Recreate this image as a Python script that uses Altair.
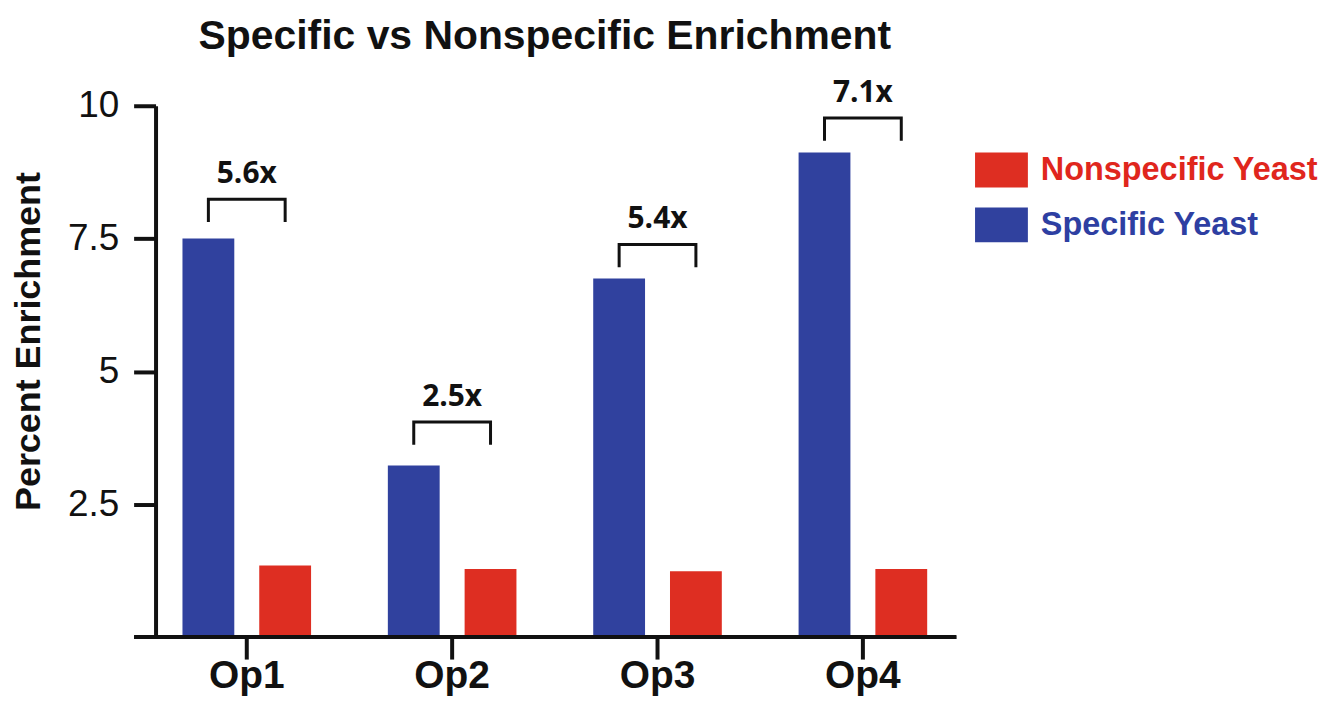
import altair as alt
import pandas as pd

categories = ["Op1", "Op2", "Op3", "Op4"]
specific = [7.5, 3.23, 6.75, 9.12]
nonspecific = [1.35, 1.28, 1.24, 1.28]
fold_labels = ["5.6x", "2.5x", "5.4x", "7.1x"]
bracket_top = [8.24, 4.05, 7.39, 9.77]
leg_drop = 0.43
series = ["Nonspecific Yeast", "Specific Yeast"]
bar_order = ["Specific Yeast", "Nonspecific Yeast"]
colors = ["#DE2E22", "#30419E"]
y_ticks = [2.5, 5, 7.5, 10]

rows = []
for c, s, n in zip(categories, specific, nonspecific):
    rows.append({"category": c, "series": "Specific Yeast", "value": s})
    rows.append({"category": c, "series": "Nonspecific Yeast", "value": n})
bars_df = pd.DataFrame(rows)

br = []
for c, t in zip(categories, bracket_top):
    br.append({"category": c, "series": "Specific Yeast", "value": t - leg_drop, "step": 0})
    br.append({"category": c, "series": "Specific Yeast", "value": t, "step": 1})
    br.append({"category": c, "series": "Nonspecific Yeast", "value": t, "step": 2})
    br.append({"category": c, "series": "Nonspecific Yeast", "value": t - leg_drop, "step": 3})
br_df = pd.DataFrame(br)

lab_df = pd.DataFrame({"category": categories, "value": bracket_top, "label": fold_labels})

W, H = 803, 533

x_enc = alt.X(
    "category:N",
    sort=categories,
    scale=alt.Scale(range=[-11.5, 812.5], paddingInner=0, paddingOuter=0),
    axis=alt.Axis(
        title=None, domain=False, labelAngle=0, labelFont="Liberation Sans",
        labelFontSize=39, labelFontWeight="bold", labelColor="#111111",
        labelPadding=-2, tickSize=22, tickWidth=4, tickColor="#111111", grid=False,
    ),
)
xo_enc = alt.XOffset(
    "series:N", sort=bar_order,
    scale=alt.Scale(paddingInner=0.325, paddingOuter=0.5),
)
y_enc = alt.Y(
    "value:Q",
    scale=alt.Scale(domain=[0, 10], nice=False, zero=True),
    axis=alt.Axis(
        values=y_ticks, format=".1~f", grid=False,
        title="Percent Enrichment", titleFont="Liberation Sans", titleFontSize=36,
        titleFontWeight="bold", titleColor="#111111", titleX=-116, titleY=236,
        titleBaseline="alphabetic", titleAlign="center", titleAngle=270,
        labelFont="Liberation Sans", labelFontSize=37, labelColor="#111111",
        labelPadding=15, tickSize=22, tickWidth=4, tickColor="#111111",
        domainWidth=4, domainColor="#111111",
    ),
)

bars = alt.Chart(bars_df).mark_bar().encode(
    x=x_enc,
    xOffset=xo_enc,
    y=y_enc,
    color=alt.Color(
        "series:N",
        scale=alt.Scale(domain=series, range=colors),
        legend=alt.Legend(
            title=None, orient="none", legendX=822, legendY=38,
            symbolType="M-1,-0.66H1V0.66H-1Z", symbolSize=2809,
            symbolStrokeWidth=0, symbolOpacity=1,
            labelFont="Liberation Sans", labelFontSize=32.5, labelFontWeight="bold",
            labelColor={"expr": "datum.value === 'Specific Yeast' ? '#2E3FA2' : '#E0261D'"},
            labelOffset=13, rowPadding=11, padding=0, labelLimit=400,
        ),
    ),
)

xaxis_line = alt.Chart(bars_df).mark_rule(color="#111111", strokeWidth=4).encode(
    x=alt.value(-21), x2=alt.value(W), y=alt.value(H)
)

brackets = alt.Chart(br_df).mark_line(
    color="#111111", strokeWidth=3, strokeJoin="miter", strokeCap="butt"
).encode(
    x=alt.X("category:N", sort=categories),
    xOffset=alt.XOffset("series:N", sort=bar_order),
    y=alt.Y("value:Q"),
    detail="category:N",
    order="step:Q",
)

labels = alt.Chart(lab_df).mark_text(
    font="Open Sans", fontWeight="bold", fontSize=30, baseline="alphabetic",
    dy=-16, color="#111111",
).encode(
    x=alt.X("category:N", sort=categories),
    y=alt.Y("value:Q"),
    text="label:N",
)

chart = alt.layer(bars, xaxis_line, brackets, labels).properties(
    width=W,
    height=H,
    title=alt.Title(
        "Specific vs Nonspecific Enrichment", font="Liberation Sans", fontSize=41,
        fontWeight="bold", color="#111111", anchor="middle", dx=-11, offset=20,
    ),
    autosize=alt.AutoSizeParams(type="none"),
    padding={"left": 148, "top": 97, "right": 363, "bottom": 58},
).configure(background="white").configure_view(stroke=None)

chart.save("out.html", embed_options={"renderer": "svg", "actions": False})
